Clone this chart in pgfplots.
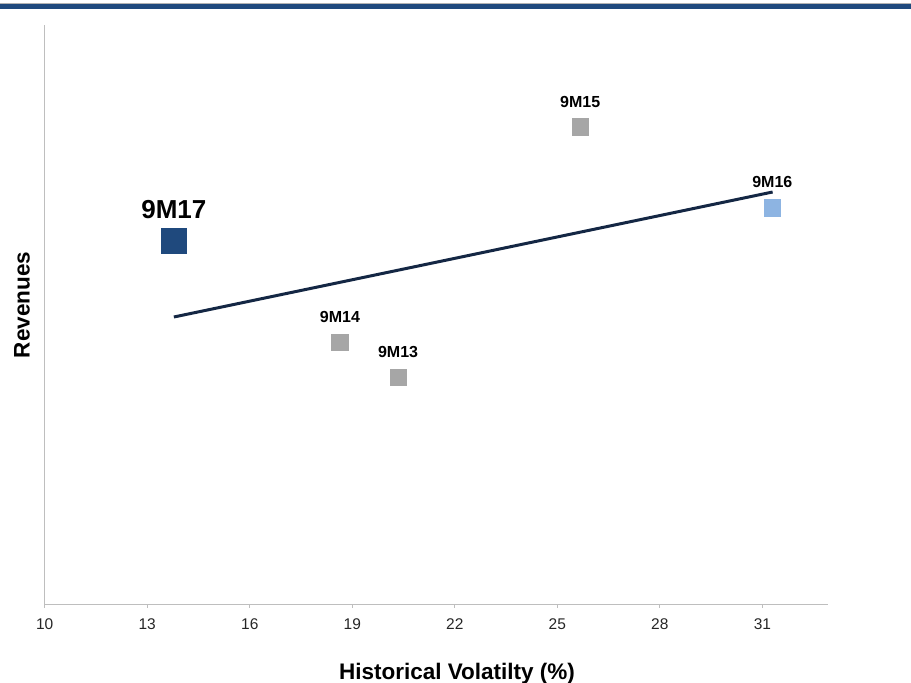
\documentclass[border=0pt]{standalone}
\usepackage{pgfplots}
\pgfplotsset{compat=1.18}
\usepackage{fontspec}
\setmainfont{Liberation Sans}
\definecolor{darkblue}{RGB}{31,73,125}
\definecolor{lightblue}{RGB}{141,180,226}
\definecolor{ptgray}{RGB}{166,166,166}
\definecolor{navy}{RGB}{20,39,68}
\definecolor{axgray}{RGB}{190,190,190}
\begin{document}
\begin{tikzpicture}[x=1pt,y=1pt]
\path[use as bounding box] (0,0) rectangle (911,683);
\fill[darkblue] (0,674) rectangle (911,679);
\draw[gray!60, line width=0.6pt] (0,679.3) -- (911,679.3);
\begin{axis}[
  at={(44.7pt,79pt)}, anchor=origin,
  scale only axis, width=783.3pt, height=579pt,
  xmin=10, xmax=32.92, ymin=0, ymax=579,
  axis x line=bottom, axis y line=left,
  axis line style={axgray, line width=0.8pt, -},
  xtick={10,13,...,31}, ytick=\empty,
  tick style={axgray, line width=0.8pt},
  xtick pos=bottom, tick align=outside, major tick length=4pt,
  /pgf/number format/assume math mode=true,
  xticklabel style={font=\fontsize{15.5}{18}\selectfont, text=black!85, yshift=-7pt},
  clip=false,
  nodes near coords, point meta=explicit symbolic,
  every node near coord/.style={font=\bfseries\fontsize{16}{19}\selectfont, anchor=center, yshift=25.5pt},
]
\addplot[navy, line width=3pt, no marks, nodes near coords={}] coordinates {(13.78,287) (31.30,412)};
\addplot[only marks, mark=square*, mark size=12.5pt, mark options={fill=darkblue, draw=darkblue},
  every node near coord/.style={font=\bfseries\fontsize{26}{30}\selectfont, anchor=center, yshift=31.5pt}]
  coordinates {(13.78,363) [9M17]};
\addplot[only marks, mark=square*, mark size=8.3pt, mark options={fill=ptgray, draw=ptgray}]
  coordinates {(18.64,261.7) [9M14] (20.34,226.7) [9M13] (25.67,477) [9M15]};
\addplot[only marks, mark=square*, mark size=8.3pt, mark options={fill=lightblue, draw=lightblue}]
  coordinates {(31.29,396.2) [9M16]};
\end{axis}
\node[font=\bfseries\fontsize{22.5}{26}\selectfont, anchor=center] at (457,9) {Historical Volatilty (\%)};
\node[font=\bfseries\fontsize{22.5}{26}\selectfont, anchor=center, rotate=90] at (22,378) {Revenues};
\end{tikzpicture}
\end{document}
